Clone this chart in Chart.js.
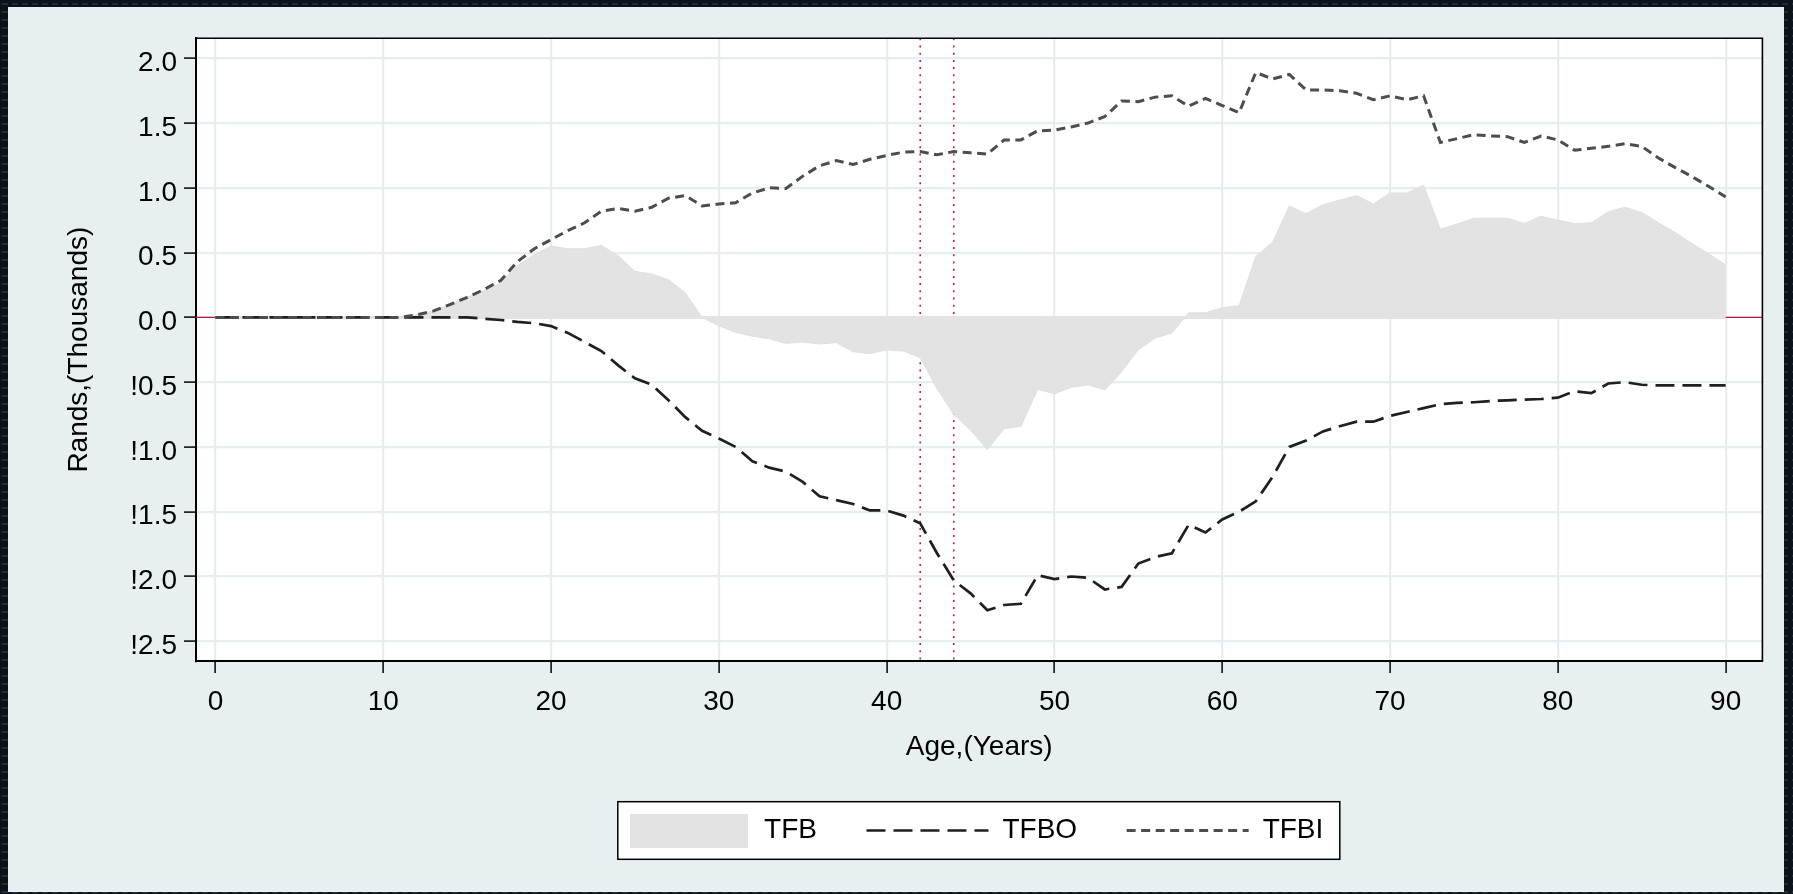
<!DOCTYPE html>
<html>
<head>
<meta charset="utf-8">
<title>TFB, TFBO and TFBI by age</title>
<script src="https://cdn.jsdelivr.net/npm/chart.js@4.4.1/dist/chart.umd.min.js"></script>
<style>
  html, body { margin: 0; padding: 0; background: #0e151a; overflow: hidden; }
  canvas { display: block; }
</style>
</head>
<body>
<canvas id="chart" width="1793" height="894"></canvas>
<script>
// Age in single years
const ages = [
  0, 1, 2, 3, 4, 5, 6, 7, 8, 9,
  10, 11, 12, 13, 14, 15, 16, 17, 18, 19,
  20, 21, 22, 23, 24, 25, 26, 27, 28, 29,
  30, 31, 32, 33, 34, 35, 36, 37, 38, 39,
  40, 41, 42, 43, 44, 45, 46, 47, 48, 49,
  50, 51, 52, 53, 54, 55, 56, 57, 58, 59,
  60, 61, 62, 63, 64, 65, 66, 67, 68, 69,
  70, 71, 72, 73, 74, 75, 76, 77, 78, 79,
  80, 81, 82, 83, 84, 85, 86, 87, 88, 89,
  90
];

// Net transfer (thousands of rands)
const tfb = [
  0, 0, 0, 0, 0, 0, 0, 0, 0, 0,
  0, 0, 0.02, 0.05, 0.10, 0.155, 0.205, 0.265, 0.40, 0.485,
  0.55, 0.53, 0.53, 0.555, 0.475, 0.355, 0.335, 0.29, 0.19, 0.0,
  -0.065, -0.115, -0.145, -0.165, -0.20, -0.19, -0.205, -0.195, -0.265, -0.28,
  -0.25, -0.26, -0.31, -0.55, -0.75, -0.87, -1.02, -0.86, -0.84, -0.555,
  -0.59, -0.54, -0.52, -0.56, -0.42, -0.25, -0.16, -0.12, 0.035, 0.035,
  0.075, 0.09, 0.47, 0.58, 0.86, 0.80, 0.87, 0.905, 0.94, 0.875,
  0.96, 0.96, 1.02, 0.68, 0.72, 0.765, 0.765, 0.765, 0.725, 0.78,
  0.75, 0.725, 0.73, 0.815, 0.85, 0.81, 0.73, 0.655, 0.57, 0.49,
  0.405
];

// Transfers out (thousands of rands)
const tfbo = [
  0, 0, 0, 0, 0, 0, 0, 0, 0, 0,
  0, 0, 0, 0, 0, 0, -0.01, -0.02, -0.035, -0.045,
  -0.067, -0.12, -0.19, -0.26, -0.37, -0.47, -0.52, -0.64, -0.77, -0.875,
  -0.935, -1.0, -1.11, -1.16, -1.19, -1.27, -1.38, -1.41, -1.44, -1.49,
  -1.49, -1.53, -1.59, -1.82, -2.03, -2.13, -2.26, -2.22, -2.21, -1.99,
  -2.02, -2.0, -2.01, -2.10, -2.08, -1.90, -1.85, -1.82, -1.60, -1.66,
  -1.56, -1.50, -1.42, -1.23, -1.0, -0.95, -0.88, -0.84, -0.805, -0.805,
  -0.76, -0.73, -0.70, -0.67, -0.66, -0.655, -0.645, -0.64, -0.635, -0.63,
  -0.62, -0.57, -0.585, -0.51, -0.50, -0.52, -0.525, -0.525, -0.525, -0.525,
  -0.525
];

// Transfers in (thousands of rands)
const tfbi = [
  0, 0, 0, 0, 0, 0, 0, 0, 0, 0,
  0, 0, 0.02, 0.05, 0.10, 0.155, 0.215, 0.285, 0.43, 0.53,
  0.60, 0.67, 0.73, 0.82, 0.84, 0.82, 0.85, 0.92, 0.94, 0.86,
  0.875, 0.885, 0.96, 1.0, 0.995, 1.09, 1.17, 1.21, 1.18, 1.22,
  1.25, 1.275, 1.28, 1.255, 1.28, 1.27, 1.26, 1.37, 1.37, 1.44,
  1.445, 1.47, 1.50, 1.55, 1.67, 1.665, 1.70, 1.71, 1.63, 1.69,
  1.635, 1.58, 1.89, 1.84, 1.875, 1.755, 1.755, 1.75, 1.73, 1.68,
  1.71, 1.68, 1.71, 1.35, 1.38, 1.41, 1.40, 1.395, 1.35, 1.40,
  1.37, 1.29, 1.305, 1.32, 1.34, 1.32, 1.23, 1.156, 1.086, 1.01,
  0.93
];

const seriesNames = ['TFB', 'TFBO', 'TFBI'];

const xTickValues = [0, 10, 20, 30, 40, 50, 60, 70, 80, 90];
const xTickLabels = ['0', '10', '20', '30', '40', '50', '60', '70', '80', '90'];
const yTickValues = [-2.5, -2.0, -1.5, -1.0, -0.5, 0.0, 0.5, 1.0, 1.5, 2.0];
const yTickLabels = ['!2.5', '!2.0', '!1.5', '!1.0', '!0.5', '0.0', '0.5', '1.0', '1.5', '2.0'];

// Ages marked with dotted vertical reference lines
const referenceAges = [42, 44];

const FONT = "'Liberation Sans', Arial, sans-serif";
const FONT_SIZE = 28;
const LEGEND_PAD = 49.5;
const LEGEND_SHIFT = -3.5;

Chart.defaults.font.family = FONT;
Chart.defaults.font.size = FONT_SIZE;
Chart.defaults.color = '#000';

const toPoints = values => ages.map((age, i) => ({ x: age, y: values[i] }));

function makeSwatch(w, h, color) {
  const c = document.createElement('canvas');
  c.width = w; c.height = h;
  const g = c.getContext('2d');
  g.fillStyle = color;
  g.fillRect(0, 0, w, h);
  return c;
}

function darkTexture(ctx) {
  const t = document.createElement('canvas');
  t.width = 10; t.height = 8;
  const g = t.getContext('2d');
  g.fillStyle = '#0d1419';
  g.fillRect(0, 0, 10, 8);
  g.fillStyle = '#232d35';
  g.fillRect(2, 3, 6, 2);
  return ctx.createPattern(t, 'repeat');
}

const AREA_COLOR = '#e3e3e3';
const areaSwatch = makeSwatch(118, 34, AREA_COLOR);

// Page background, graph region, white plot region and legend frame
const backdrop = {
  id: 'backdrop',
  afterLayout(chart) {
    // nudge the legend row slightly left of the plot centre
    chart.legend.left += LEGEND_SHIFT;
    chart.legend.right += LEGEND_SHIFT;
  },
  beforeDraw(chart) {
    const { ctx, width, height, chartArea: a, legend } = chart;
    ctx.save();
    ctx.fillStyle = darkTexture(ctx);
    ctx.fillRect(0, 0, width, height);
    ctx.fillStyle = '#e8eff1';
    ctx.fillRect(8, 7, width - 17, height - 9);
    ctx.fillStyle = '#ffffff';
    ctx.fillRect(a.left, a.top, a.right - a.left, a.bottom - a.top);

    const cx = (a.left + a.right) / 2 - 0.4;
    const cy = legend.top + LEGEND_PAD + FONT_SIZE / 2;
    const halfW = 361, halfH = 28.8;
    ctx.fillStyle = '#ffffff';
    ctx.fillRect(cx - halfW, cy - halfH, halfW * 2, halfH * 2);
    ctx.strokeStyle = '#000';
    ctx.lineWidth = 1.5;
    ctx.strokeRect(cx - halfW, cy - halfH, halfW * 2, halfH * 2);
    ctx.restore();
  }
};

// Zero line and dotted age markers under the data, frame on top
const referenceLines = {
  id: 'referenceLines',
  beforeDatasetsDraw(chart) {
    const { ctx, chartArea: a, scales: { x, y } } = chart;
    ctx.save();
    const y0 = y.getPixelForValue(0);
    ctx.strokeStyle = '#b8193f';
    ctx.lineWidth = 1.3;
    ctx.beginPath();
    ctx.moveTo(a.left, y0);
    ctx.lineTo(a.right, y0);
    ctx.stroke();

    // outline of the TFB area along its baseline
    ctx.strokeStyle = AREA_COLOR;
    ctx.lineWidth = 3;
    ctx.beginPath();
    ctx.moveTo(x.getPixelForValue(ages[0]), y0);
    ctx.lineTo(x.getPixelForValue(ages[ages.length - 1]), y0);
    ctx.stroke();

    ctx.strokeStyle = '#d3174c';
    ctx.lineWidth = 1.6;
    ctx.setLineDash([2, 5.2]);
    referenceAges.forEach(age => {
      const px = x.getPixelForValue(age);
      ctx.beginPath();
      ctx.moveTo(px, a.top);
      ctx.lineTo(px, a.bottom);
      ctx.stroke();
    });
    ctx.restore();
  },
  afterDatasetsDraw(chart) {
    const { ctx, chartArea: a } = chart;
    ctx.save();
    ctx.strokeStyle = '#000';
    ctx.lineWidth = 1.6;
    ctx.beginPath();
    ctx.moveTo(a.left, a.top);
    ctx.lineTo(a.right, a.top);
    ctx.lineTo(a.right, a.bottom);
    ctx.stroke();
    ctx.restore();
  }
};

const gridStyle = {
  color: '#e6eef0',
  lineWidth: 2.2,
  tickLength: 12,
  tickColor: '#000',
  tickWidth: 1.5
};

new Chart(document.getElementById('chart'), {
  type: 'line',
  data: {
    datasets: [
      {
        label: seriesNames[0],
        data: toPoints(tfb),
        fill: 'origin',
        backgroundColor: AREA_COLOR,
        borderColor: '#e0e0e0',
        borderWidth: 1,
        pointRadius: 0,
        tension: 0,
        order: 3
      },
      {
        label: seriesNames[1],
        data: toPoints(tfbo),
        fill: false,
        borderColor: '#1f1f1f',
        borderWidth: 2.7,
        borderDash: [19, 8],
        borderCapStyle: 'butt',
        pointRadius: 0,
        tension: 0,
        order: 2
      },
      {
        label: seriesNames[2],
        data: toPoints(tfbi),
        fill: false,
        borderColor: '#4d4d4d',
        borderWidth: 3,
        borderDash: [9, 5.5],
        borderCapStyle: 'butt',
        pointRadius: 0,
        tension: 0,
        order: 1
      }
    ]
  },
  options: {
    responsive: false,
    animation: false,
    devicePixelRatio: 1,
    events: [],
    layout: { padding: { left: 8, right: 30.6, top: 38.3, bottom: 39.5 } },
    scales: {
      x: {
        type: 'linear',
        min: -1.16,
        max: 92.19,
        afterBuildTicks: s => { s.ticks = xTickValues.map(v => ({ value: v })); },
        afterFit: s => { s.height = 106; },
        grid: gridStyle,
        border: { display: true, color: '#000', width: 2 },
        ticks: {
          padding: 12,
          color: '#000',
          autoSkip: false,
          maxRotation: 0,
          callback: (v, i) => xTickLabels[i]
        },
        title: {
          display: true,
          text: 'Age,(Years)',
          color: '#000',
          font: { size: FONT_SIZE },
          padding: { top: 0, bottom: 3.2 }
        }
      },
      y: {
        type: 'linear',
        min: -2.652,
        max: 2.154,
        afterBuildTicks: s => { s.ticks = yTickValues.map(v => ({ value: v })); },
        afterFit: s => { s.width = 188; },
        grid: gridStyle,
        border: { display: true, color: '#000', width: 2 },
        ticks: {
          padding: 7,
          labelOffset: 5,
          color: '#000',
          autoSkip: false,
          callback: (v, i) => yTickLabels[i]
        },
        title: {
          display: true,
          text: 'Rands,(Thousands)',
          color: '#000',
          font: { size: FONT_SIZE },
          padding: { top: 54, bottom: 0 }
        }
      }
    },
    plugins: {
      tooltip: { enabled: false },
      legend: {
        position: 'bottom',
        fullSize: false,
        labels: {
          usePointStyle: true,
          pointStyleWidth: 122,
          boxHeight: FONT_SIZE,
          padding: LEGEND_PAD,
          color: '#000',
          font: { size: FONT_SIZE },
          generateLabels(chart) {
            return chart.data.datasets.map((ds, i) => ({
              text: ds.label,
              datasetIndex: i,
              hidden: false,
              fontColor: '#000',
              pointStyle: i === 0 ? areaSwatch : 'line',
              fillStyle: i === 0 ? AREA_COLOR : 'rgba(0,0,0,0)',
              strokeStyle: ds.borderColor,
              lineWidth: i === 0 ? 0 : ds.borderWidth,
              lineDash: ds.borderDash || [],
              lineCap: 'butt'
            }));
          }
        }
      }
    }
  },
  plugins: [backdrop, referenceLines]
});
</script>
</body>
</html>
